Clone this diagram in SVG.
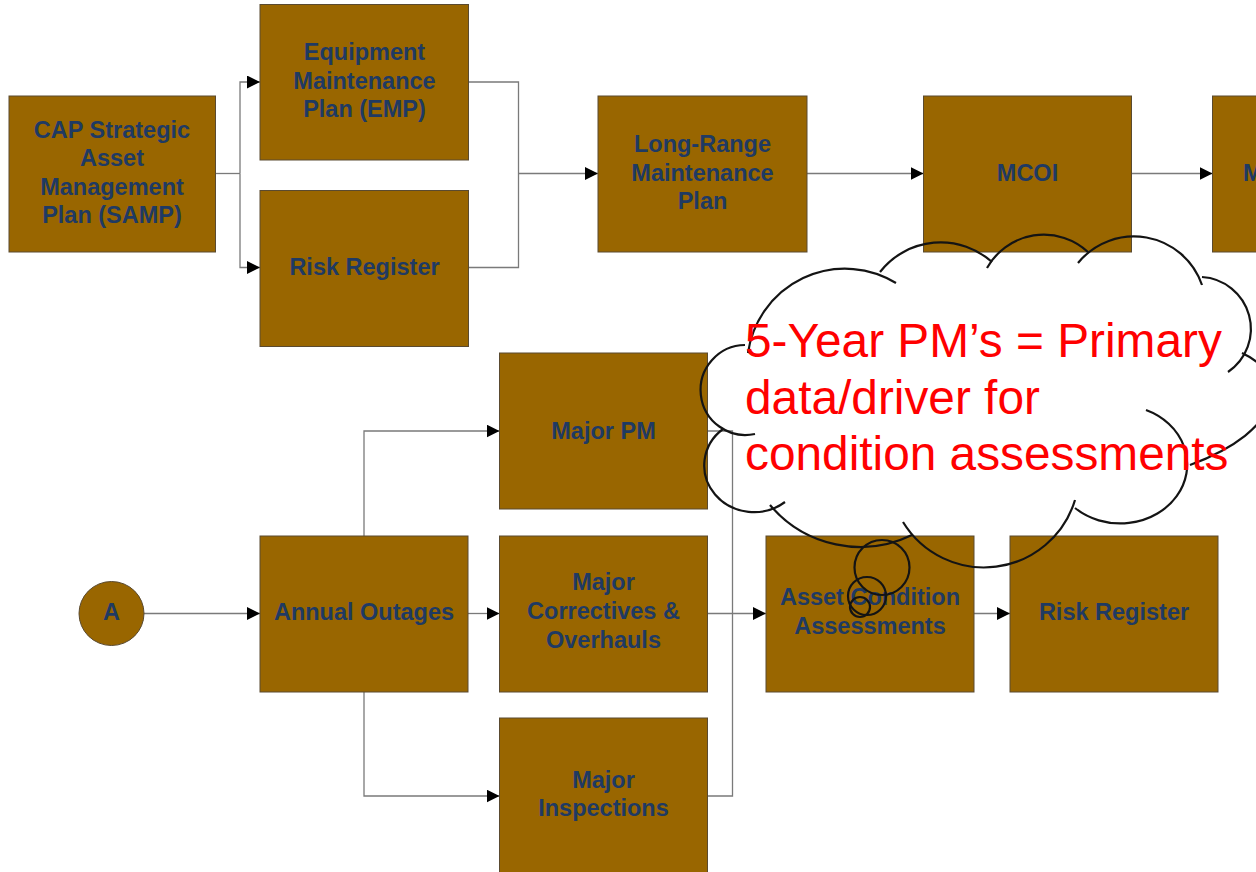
<svg xmlns="http://www.w3.org/2000/svg" width="1256" height="872" viewBox="0 0 1256 872">
<defs>
<style>
.box{fill:#996600;stroke:#5a4a30;stroke-width:1}
.t{font-family:"Liberation Sans",Arial,sans-serif;font-weight:bold;font-size:23.5px;fill:#1F3A63;text-anchor:middle}
.c{fill:none;stroke:#7a7a7a;stroke-width:1.3}
.a{marker-end:url(#arr)}
.cl{fill:none;stroke:#141414;stroke-width:2.2}
.ct{font-family:"Liberation Sans",Arial,sans-serif;font-size:47.8px;fill:#FF0000}
</style>
<marker id="arr" markerUnits="userSpaceOnUse" markerWidth="13" markerHeight="13" refX="13" refY="6.5" orient="auto">
<path d="M0,0 L13,6.5 L0,13 z" fill="#000"/>
</marker>
</defs>
<rect width="1256" height="872" fill="#fff"/>

<g id="connectors">
<path class="c" d="M215,173.5 H240"/>
<path class="c a" d="M240,173.5 V82 H260"/>
<path class="c a" d="M240,173.5 V267.5 H260"/>
<path class="c" d="M468.5,82 H518.5 V267.5 H468.5"/>
<path class="c a" d="M518.5,173.5 H598"/>
<path class="c a" d="M807,173.5 H923.5"/>
<path class="c a" d="M1131.5,173.5 H1212.5"/>
<path class="c a" d="M144,613.5 H260"/>
<path class="c a" d="M468,613.5 H499.5"/>
<path class="c a" d="M364,536 V431 H499.5"/>
<path class="c a" d="M364,692 V796 H499.5"/>
<path class="c" d="M707.5,431 H732.5 V796 H707.5"/>
<path class="c a" d="M707.5,613.5 H766"/>
<path class="c a" d="M974,613.5 H1010"/>
</g>

<g id="samp"><rect class="box" x="9" y="96" width="206.5" height="156"/>
<text class="t" x="112" y="137.5">CAP Strategic</text><text class="t" x="112" y="166">Asset</text><text class="t" x="112" y="194.5">Management</text><text class="t" x="112" y="223">Plan (SAMP)</text></g>
<g id="emp"><rect class="box" x="260" y="4.5" width="208.5" height="155.5"/>
<text class="t" x="364.5" y="60">Equipment</text><text class="t" x="364.5" y="88.5">Maintenance</text><text class="t" x="364.5" y="117">Plan (EMP)</text></g>
<g id="risk1"><rect class="box" x="260" y="190.5" width="208.5" height="156"/>
<text class="t" x="364.5" y="275">Risk Register</text></g>
<g id="lrmp"><rect class="box" x="598" y="96" width="209" height="156"/>
<text class="t" x="702.5" y="152">Long-Range</text><text class="t" x="702.5" y="180.5">Maintenance</text><text class="t" x="702.5" y="209">Plan</text></g>
<g id="mcoi"><rect class="box" x="923.5" y="96" width="208" height="156"/>
<text class="t" x="1027.5" y="180.5">MCOI</text></g>
<g id="next"><rect class="box" x="1212.5" y="96" width="208" height="156"/>
<text class="t" x="1243" y="180.5" style="text-anchor:start">M</text></g>

<g id="a"><ellipse class="box" cx="111.5" cy="613.5" rx="32.5" ry="32"/>
<text class="t" x="111.5" y="620">A</text></g>
<g id="outages"><rect class="box" x="260" y="536" width="208" height="156"/>
<text class="t" x="364" y="620">Annual Outages</text></g>
<g id="majorpm"><rect class="box" x="499.5" y="353" width="208" height="156"/>
<text class="t" x="603.5" y="438.5">Major PM</text></g>
<g id="correctives"><rect class="box" x="499.5" y="536" width="208" height="156"/>
<text class="t" x="603.5" y="590">Major</text><text class="t" x="603.5" y="619">Correctives &amp;</text><text class="t" x="603.5" y="647.5">Overhauls</text></g>
<g id="inspections"><rect class="box" x="499.5" y="718" width="208" height="160"/>
<text class="t" x="603.5" y="787.5">Major</text><text class="t" x="603.5" y="816">Inspections</text></g>
<g id="asset"><rect class="box" x="766" y="536" width="208" height="156"/>
<text class="t" x="870" y="605">Asset Condition</text><text class="t" x="870" y="634">Assessments</text></g>
<g id="risk2"><rect class="box" x="1010" y="536" width="208" height="156"/>
<text class="t" x="1114" y="619.5">Risk Register</text></g>

<g id="cloud">
<path class="cl" d="M755,434 A45,45 0 1,1 745,345"/>
<path class="cl" d="M748,353 A98,98 0 0,1 896,283"/>
<path class="cl" d="M880,272 A77,77 0 0,1 992,262"/>
<path class="cl" d="M987,268 A65,65 0 0,1 1088,252"/>
<path class="cl" d="M1078,263 A72,72 0 0,1 1202,285"/>
<path class="cl" d="M1202,277 A52,52 0 0,1 1228,372"/>
<path class="cl" d="M1242,353 C1290,375 1285,430 1190,465"/>
<path class="cl" d="M1146,410 A67,59 0 1,1 1075,508"/>
<path class="cl" d="M1075,500 A95,95 0 0,1 903,522"/>
<path class="cl" d="M912,535 A118,118 0 0,1 770,505"/>
<path class="cl" d="M785,502 A48,45 0 1,1 723,429"/>
<circle class="cl" cx="882" cy="567.5" r="27.5"/>
<circle class="cl" cx="867" cy="596" r="19"/>
<circle class="cl" cx="860" cy="607" r="10"/>
<text class="ct" x="745" y="357">5-Year PM’s = Primary</text>
<text class="ct" x="745" y="413.5">data/driver for</text>
<text class="ct" x="745" y="470">condition assessments</text>
</g>
</svg>
